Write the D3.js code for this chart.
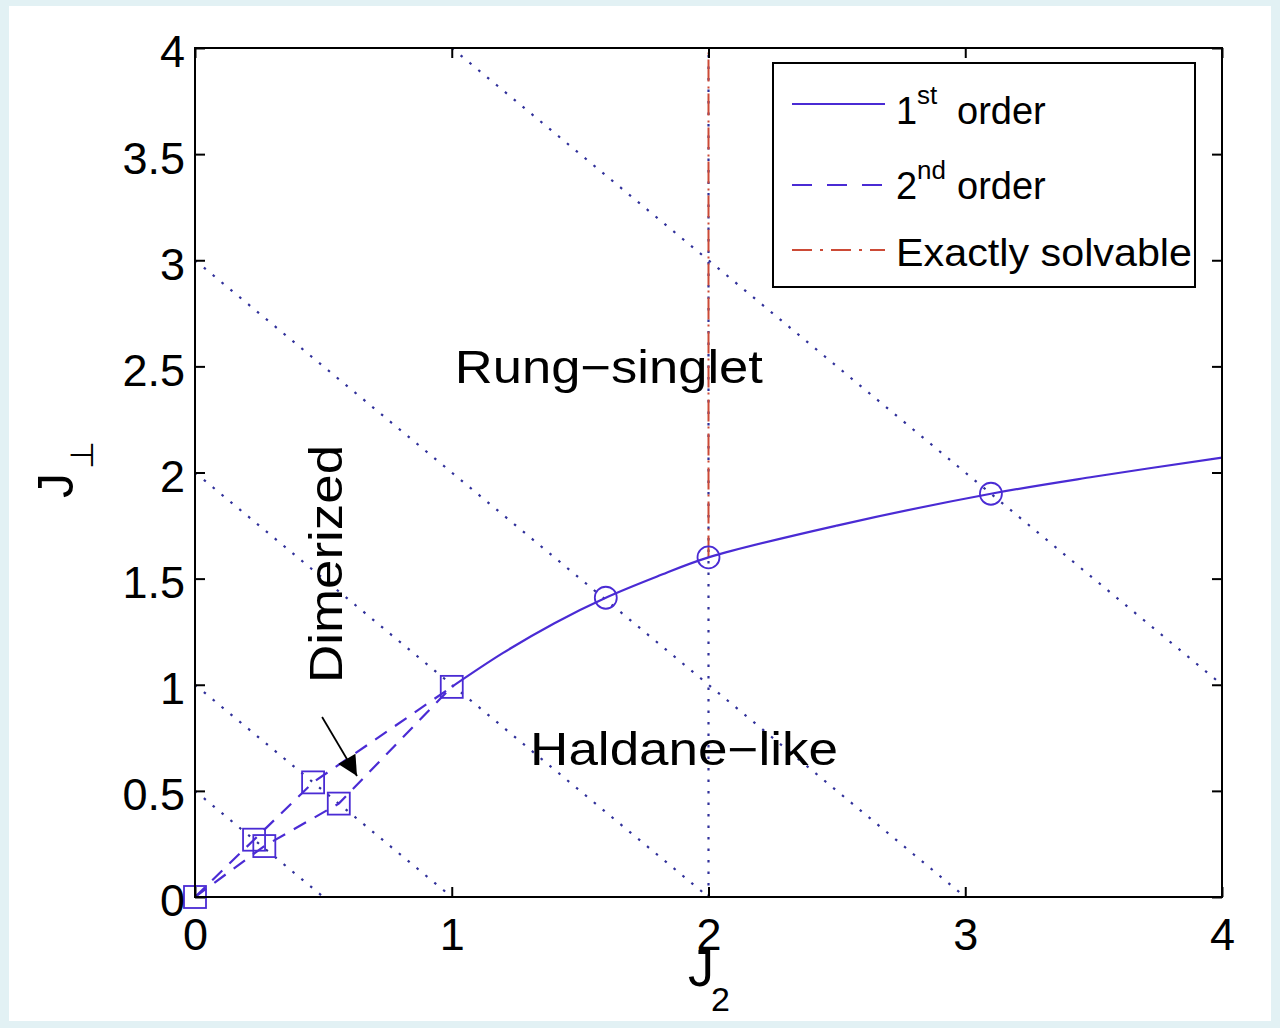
<!DOCTYPE html>
<html>
<head>
<meta charset="utf-8">
<script src="https://cdn.jsdelivr.net/npm/d3@7"></script>
<style>
  html, body { margin: 0; padding: 0; background: #e2f1f4; }
  svg { display: block; }
  text { font-family: "Liberation Sans", Arial, Helvetica, sans-serif; }
</style>
</head>
<body>
<svg id="chart" width="1280" height="1028"></svg>
<script>
// ---------------- data ----------------
const xTicks = [0, 1, 2, 3, 4];
const yTicks = [0, 0.5, 1, 1.5, 2, 2.5, 3, 3.5, 4];
const xTickLabels = ["0", "1", "2", "3", "4"];
const yTickLabels = ["0", "0.5", "1", "1.5", "2", "2.5", "3", "3.5", "4"];

// 1st order transition line (solid)
const firstJ2   = [1.0, 1.2, 1.4, 1.6, 1.8, 2.0, 2.5, 3.1, 3.5, 4.0];
const firstJperp= [0.99, 1.15, 1.29, 1.41, 1.51, 1.60, 1.75, 1.90, 1.98, 2.07];
// circle markers on 1st order line
const circleJ2   = [1.6, 2.0, 3.1];
const circleJperp= [1.41, 1.60, 1.90];

// 2nd order lines (dashed), upper and lower branch
const secondUpperJ2    = [0.0, 0.23, 0.46, 1.0];
const secondUpperJperp = [0.0, 0.27, 0.54, 0.99];
const secondLowerJ2    = [0.0, 0.27, 0.56, 1.0];
const secondLowerJperp = [0.0, 0.24, 0.44, 0.99];
// square markers on 2nd order lines
const squareJ2    = [0.0, 0.23, 0.27, 0.46, 0.56, 1.0];
const squareJperp = [0.0, 0.27, 0.24, 0.54, 0.44, 0.99];

// dotted guide lines: J2 + Jperp = const (start point, end point)
const guideX1 = [0.0, 0.0, 0.0, 0.0, 1.0];
const guideY1 = [0.5, 1.0, 2.0, 3.0, 4.0];
const guideX2 = [0.5, 1.0, 2.0, 3.0, 4.0];
const guideY2 = [0.0, 0.0, 0.0, 0.0, 1.0];
// vertical dotted line J2 = 2
const vertJ2 = 2;
// exactly solvable line (dash-dot) J2 = 2, Jperp from 1.6 to 4
const exactJ2 = [2, 2];
const exactJperp = [1.6, 4];

const legendLabels = [
  {main: "1", sup: "st", rest: "order"},
  {main: "2", sup: "nd", rest: "order"},
  {main: "Exactly solvable", sup: "", rest: ""}
];

// ---------------- drawing ----------------
const svg = d3.select("#chart");
const lineColor = "#4a2bd4";
const dotColor = "#30309a";
const exactColor = "#cc4a36";

// white panel
svg.append("rect").attr("x", 9).attr("y", 6).attr("width", 1262).attr("height", 1015).attr("fill", "#ffffff");

const x = d3.scaleLinear().domain([0, 4]).range([195, 1222]);
const y = d3.scaleLinear().domain([0, 4]).range([897, 48]);

svg.append("clipPath").attr("id", "plotclip")
  .append("rect").attr("x", x(0)).attr("y", y(4)).attr("width", x(4) - x(0)).attr("height", y(0) - y(4));

const plot = svg.append("g").attr("clip-path", "url(#plotclip)");

// dotted guide lines
guideX1.forEach((d, i) => {
  plot.append("line")
    .attr("x1", x(guideX1[i])).attr("y1", y(guideY1[i]))
    .attr("x2", x(guideX2[i])).attr("y2", y(guideY2[i]))
    .attr("stroke", dotColor).attr("stroke-width", 2.2)
    .attr("stroke-dasharray", "2.5,9");
});
plot.append("line")
  .attr("x1", x(vertJ2)).attr("y1", y(0)).attr("x2", x(vertJ2)).attr("y2", y(4))
  .attr("stroke", dotColor).attr("stroke-width", 2.2).attr("stroke-dasharray", "2.5,9");

// exactly solvable dash-dot
plot.append("line")
  .attr("x1", x(exactJ2[0])).attr("y1", y(exactJperp[0]))
  .attr("x2", x(exactJ2[1])).attr("y2", y(exactJperp[1]))
  .attr("stroke", exactColor).attr("stroke-width", 2).attr("stroke-dasharray", "22,5,2,5");

const line = d3.line().x(d => x(d[0])).y(d => y(d[1]));
const curve = d3.line().x(d => x(d[0])).y(d => y(d[1])).curve(d3.curveCatmullRom.alpha(0.5));

// 2nd order dashed
[[secondUpperJ2, secondUpperJperp], [secondLowerJ2, secondLowerJperp]].forEach(([xs, ys]) => {
  plot.append("path")
    .attr("d", line(xs.map((v, i) => [v, ys[i]])))
    .attr("fill", "none").attr("stroke", lineColor).attr("stroke-width", 2.2)
    .attr("stroke-dasharray", "14,10");
});

// 1st order solid
plot.append("path")
  .attr("d", curve(firstJ2.map((v, i) => [v, firstJperp[i]])))
  .attr("fill", "none").attr("stroke", lineColor).attr("stroke-width", 2.2);

// markers (not clipped)
const markers = svg.append("g");
squareJ2.forEach((v, i) => {
  markers.append("rect")
    .attr("x", x(v) - 11).attr("y", y(squareJperp[i]) - 11)
    .attr("width", 22).attr("height", 22)
    .attr("fill", "none").attr("stroke", lineColor).attr("stroke-width", 1.8);
});
circleJ2.forEach((v, i) => {
  markers.append("circle")
    .attr("cx", x(v)).attr("cy", y(circleJperp[i])).attr("r", 11)
    .attr("fill", "none").attr("stroke", lineColor).attr("stroke-width", 1.8);
});

// axes (inward ticks)
const tickFont = 45;
const gx = svg.append("g").attr("transform", `translate(0,${y(0)})`)
  .call(d3.axisBottom(x).tickValues(xTicks).tickFormat((d, i) => xTickLabels[i])
    .tickSizeInner(-10).tickSizeOuter(0).tickPadding(21));
const gy = svg.append("g").attr("transform", `translate(${x(0)},0)`)
  .call(d3.axisLeft(y).tickValues(yTicks).tickFormat((d, i) => yTickLabels[i])
    .tickSizeInner(-10).tickSizeOuter(0).tickPadding(10));
const gt = svg.append("g").attr("transform", `translate(0,${y(4)})`)
  .call(d3.axisTop(x).tickValues(xTicks).tickFormat("").tickSizeInner(-10).tickSizeOuter(0));
const gr = svg.append("g").attr("transform", `translate(${x(4)},0)`)
  .call(d3.axisRight(y).tickValues(yTicks).tickFormat("").tickSizeInner(-10).tickSizeOuter(0));
[gx, gy, gt, gr].forEach(g => {
  g.select(".domain").remove();
  g.selectAll(".tick line").attr("stroke", "#000").attr("stroke-width", 2);
  g.selectAll(".tick text").attr("fill", "#000").attr("font-size", tickFont)
    .attr("font-family", "Liberation Sans, Arial, Helvetica, sans-serif");
});
gy.selectAll(".tick text").attr("dy", "0.42em");

// frame
svg.append("rect").attr("x", x(0)).attr("y", y(4))
  .attr("width", x(4) - x(0)).attr("height", y(0) - y(4))
  .attr("fill", "none").attr("stroke", "#000").attr("stroke-width", 2);

// axis labels
const xl = svg.append("text").attr("x", 688).attr("y", 986).attr("font-size", 52).attr("fill", "#000");
xl.append("tspan").text("J");
xl.append("tspan").attr("x", 711).attr("y", 1011).attr("font-size", 34).text("2");

const yl = svg.append("text").attr("transform", "translate(73,498) rotate(-90)")
  .attr("font-size", 50).attr("fill", "#000");
yl.append("tspan").text("J");
yl.append("tspan").attr("dy", 20).attr("dx", 4).attr("font-size", 32).text("⊥");

// region labels
svg.append("text").attr("x", x(1.612)).attr("y", y(2.42)).attr("text-anchor", "middle")
  .attr("font-size", 46).attr("textLength", 308).attr("lengthAdjust", "spacingAndGlyphs")
  .attr("fill", "#000").text("Rung−singlet");
svg.append("text").attr("x", x(1.905)).attr("y", y(0.622)).attr("text-anchor", "middle")
  .attr("font-size", 46).attr("textLength", 308).attr("lengthAdjust", "spacingAndGlyphs")
  .attr("fill", "#000").text("Haldane−like");
svg.append("text").attr("transform", `translate(${x(0.573)},${y(1.569)}) rotate(-90)`)
  .attr("text-anchor", "middle").attr("font-size", 46)
  .attr("textLength", 238).attr("lengthAdjust", "spacingAndGlyphs")
  .attr("fill", "#000").text("Dimerized");

// arrow
const arrowStart = [0.495, 0.848];
const arrowEnd = [0.631, 0.570];
svg.append("defs").append("marker").attr("id", "arrowhead")
  .attr("viewBox", "0 0 10 10").attr("refX", 10).attr("refY", 5)
  .attr("markerWidth", 30).attr("markerHeight", 20).attr("markerUnits", "userSpaceOnUse")
  .attr("orient", "auto")
  .append("path").attr("d", "M0,0 L10,5 L0,10 Z").attr("fill", "#000");
svg.append("line")
  .attr("x1", x(arrowStart[0])).attr("y1", y(arrowStart[1]))
  .attr("x2", x(arrowEnd[0])).attr("y2", y(arrowEnd[1]))
  .attr("stroke", "#000").attr("stroke-width", 1.8).attr("marker-end", "url(#arrowhead)");

// legend
const lg = svg.append("g");
lg.append("rect").attr("x", 773).attr("y", 63).attr("width", 422).attr("height", 224)
  .attr("fill", "#fff").attr("stroke", "#000").attr("stroke-width", 2);
const legendY = [104, 185, 250];
const legendBase = [124, 199, 266];
const legendDash = [null, "20,15", "20,8,3,8"];
const legendColor = [lineColor, lineColor, exactColor];
legendLabels.forEach((d, i) => {
  const ln = lg.append("line").attr("x1", 792).attr("x2", 885)
    .attr("y1", legendY[i]).attr("y2", legendY[i])
    .attr("stroke", legendColor[i]).attr("stroke-width", 2);
  if (legendDash[i]) ln.attr("stroke-dasharray", legendDash[i]);
  const t = lg.append("text").attr("x", 896).attr("y", legendBase[i])
    .attr("font-size", 38).attr("fill", "#000");
  if (d.sup) {
    t.append("tspan").text(d.main);
    t.append("tspan").attr("x", 917).attr("y", legendBase[i] - 20).attr("font-size", 26).text(d.sup);
    t.append("tspan").attr("x", 957).attr("y", legendBase[i]).text(d.rest);
  } else {
    t.attr("textLength", 296).attr("lengthAdjust", "spacingAndGlyphs").text(d.main);
  }
});
</script>
</body>
</html>
